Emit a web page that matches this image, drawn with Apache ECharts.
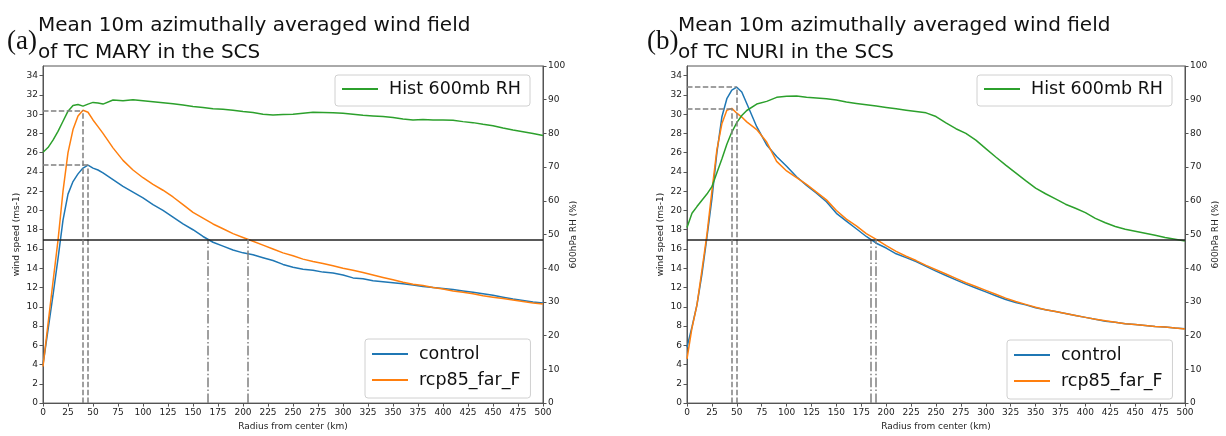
<!DOCTYPE html>
<html>
<head>
<meta charset="utf-8">
<script src="https://cdn.jsdelivr.net/npm/echarts@6/dist/echarts.min.js"></script>
<style>
  html, body { margin: 0; padding: 0; background: #fff; }
  #chart { width: 1226px; height: 436px; }
</style>
</head>
<body>
<div id="chart"></div>
<script>
// radius from center (km): 5 km steps near the core, 10 km further out
var radius = [0, 5, 10, 15, 20, 25, 30, 35, 40, 45, 50, 55, 60,
  70, 80, 90, 100, 110, 120, 130, 140, 150,
  160, 170, 180, 190, 200, 210, 220, 230, 240, 250,
  260, 270, 280, 290, 300, 310, 320, 330, 340, 350,
  360, 370, 380, 390, 400, 410, 420, 430, 440, 450,
  460, 470, 480, 490, 500];

// (a) TC MARY
var maryControl = [4.0, 7.6, 11.2, 15.0, 19.0, 21.7, 23.0, 23.8, 24.4, 24.7, 24.4, 24.2, 23.9,
  23.2, 22.5, 21.9, 21.3, 20.6, 20.0, 19.3, 18.6, 18.0,
  17.3, 16.7, 16.3, 15.9, 15.6, 15.4, 15.1, 14.8, 14.4, 14.1,
  13.9, 13.8, 13.6, 13.5, 13.3, 13.0, 12.9, 12.7, 12.6, 12.5,
  12.4, 12.25, 12.1, 12.0, 11.9, 11.8, 11.65, 11.5, 11.35, 11.2,
  11.0, 10.8, 10.65, 10.5, 10.4];
var maryRcp85 = [3.8, 8.2, 12.6, 16.9, 22.0, 26.0, 28.4, 29.8, 30.4, 30.2, 29.4, 28.7, 28.0,
  26.5, 25.2, 24.2, 23.4, 22.7, 22.1, 21.4, 20.6, 19.8,
  19.2, 18.6, 18.1, 17.6, 17.2, 16.8, 16.4, 16.0, 15.6, 15.3,
  14.95, 14.7, 14.5, 14.25, 14.0, 13.8, 13.55, 13.3, 13.05, 12.8,
  12.55, 12.35, 12.2, 12.0, 11.85, 11.65, 11.5, 11.35, 11.15, 11.0,
  10.85, 10.7, 10.55, 10.4, 10.3];
var maryRH = [74.4, 75.8, 78.0, 80.6, 83.6, 86.6, 88.3, 88.6, 88.1, 88.7, 89.2, 89.0, 88.7,
  89.9, 89.7, 90.0, 89.7, 89.4, 89.1, 88.8, 88.4, 88.0,
  87.7, 87.3, 87.2, 86.9, 86.5, 86.2, 85.7, 85.5, 85.6, 85.7,
  86.0, 86.3, 86.2, 86.1, 86.0, 85.7, 85.4, 85.2, 85.0, 84.7,
  84.3, 84.0, 84.1, 84.0, 84.0, 83.9, 83.5, 83.2, 82.7, 82.3,
  81.6, 81.0, 80.5, 80.0, 79.4];

// (b) TC NURI
var nuriControl = [5.8, 7.9, 10.2, 13.4, 17.2, 21.2, 26.0, 29.7, 31.6, 32.5, 32.8, 32.3, 31.1,
  28.7, 26.8, 25.6, 24.6, 23.5, 22.6, 21.8, 20.9, 19.7,
  18.9, 18.1, 17.3, 16.6, 16.1, 15.5, 15.1, 14.7, 14.2, 13.7,
  13.25, 12.8, 12.35, 11.95, 11.55, 11.15, 10.75, 10.45, 10.2, 9.9,
  9.7, 9.5, 9.3, 9.1, 8.9, 8.7, 8.5, 8.4, 8.25, 8.15,
  8.05, 7.95, 7.9, 7.8, 7.72];
var nuriRcp85 = [4.6, 7.8, 10.2, 13.8, 17.5, 22.0, 26.3, 29.0, 30.4, 30.6, 30.1, 29.7, 29.2,
  28.4, 27.1, 25.1, 24.1, 23.4, 22.7, 21.9, 21.1, 20.0,
  19.1, 18.4, 17.6, 17.0, 16.35, 15.75, 15.25, 14.8, 14.3, 13.85,
  13.4, 12.95, 12.5, 12.1, 11.7, 11.3, 10.9, 10.55, 10.25, 9.95,
  9.7, 9.5, 9.3, 9.1, 8.9, 8.7, 8.55, 8.4, 8.25, 8.15,
  8.05, 7.95, 7.9, 7.8, 7.7];
var nuriRH = [52.1, 56.3, 58.3, 60.2, 62.0, 64.2, 68.3, 72.4, 76.8, 80.4, 83.2, 85.3, 86.8,
  88.7, 89.5, 90.7, 91.0, 91.1, 90.7, 90.5, 90.3, 89.9,
  89.3, 88.9, 88.5, 88.1, 87.7, 87.3, 86.9, 86.5, 86.1, 85.0,
  83.1, 81.4, 80.0, 78.0, 75.5, 73.0, 70.6, 68.3, 66.0, 63.8,
  62.1, 60.6, 59.0, 57.8, 56.5, 54.8, 53.5, 52.4, 51.6, 51.0,
  50.4, 49.8, 49.1, 48.6, 48.1];

var galeSpeed = 17;
var xTicks = { min: 0, max: 500, interval: 25 };
var windTicks = { min: 0, max: 35, interval: 2 };
var rhTicks = { min: 0, max: 100, interval: 10 };

var BLUE = '#1f77b4', ORANGE = '#ff7f0e', GREEN = '#2ca02c';
var FONT = 'DejaVu Sans';

function pairs(vals) {
  return radius.map(function (r, k) { return [r, vals[k]]; });
}

// radius and value of the maximum wind
function peakOf(vals) {
  var k = 0;
  for (var j = 1; j < vals.length; j++) if (vals[j] > vals[k]) k = j;
  return [radius[k], vals[k]];
}

// radius where the wind drops below the level, outside the peak
function crossOf(vals, level) {
  var k = radius.indexOf(peakOf(vals)[0]);
  for (var j = k; j < vals.length - 1; j++) {
    if (vals[j] >= level && vals[j + 1] < level) {
      return radius[j] + (vals[j] - level) / (vals[j] - vals[j + 1]) * (radius[j + 1] - radius[j]);
    }
  }
  return null;
}

function refLines(vals, withGale) {
  var pk = peakOf(vals);
  var rc = crossOf(vals, galeSpeed);
  var dashed = { color: '#808080', width: 1.5, type: [5.5, 2.4] };
  var dashDot = { color: '#808080', width: 1.5, type: [9.6, 2.4, 1.5, 2.4] };
  var data = [
    [{ coord: [pk[0], 0], lineStyle: dashed }, { coord: pk, lineStyle: dashed }],
    [{ coord: [0, pk[1]], lineStyle: dashed }, { coord: pk, lineStyle: dashed }],
    [{ coord: [rc, 0], lineStyle: dashDot }, { coord: [rc, galeSpeed], lineStyle: dashDot }]
  ];
  if (withGale) {
    data.push({ yAxis: galeSpeed, lineStyle: { color: '#222', width: 1.5, type: 'solid' } });
  }
  return {
    silent: true,
    symbol: ['none', 'none'],
    label: { show: false },
    emphasis: { disabled: true },
    data: data
  };
}

function lineSeries(name, vals, color, xi, yi, markLine) {
  var s = {
    name: name,
    type: 'line',
    xAxisIndex: xi,
    yAxisIndex: yi,
    data: pairs(vals),
    showSymbol: false,
    color: color,
    lineStyle: { width: 1.5, color: color },
    emphasis: { disabled: true },
    z: 3
  };
  if (markLine) s.markLine = markLine;
  return s;
}

var axisText = { fontSize: 9, color: '#222', fontFamily: FONT };
var spine = { show: true, lineStyle: { color: '#555', width: 1 } };
var tick = { show: true, inside: false, length: 3.5, lineStyle: { color: '#555' } };

function xAxisFor(i) {
  return {
    type: 'value', gridIndex: i,
    min: xTicks.min, max: xTicks.max, interval: xTicks.interval,
    name: 'Radius from center (km)', nameLocation: 'middle', nameGap: 16,
    nameTextStyle: { fontSize: 9, color: '#222', fontFamily: FONT },
    axisLine: spine, axisTick: tick,
    axisLabel: Object.assign({ margin: 5 }, axisText),
    splitLine: { show: false }
  };
}

function windAxisFor(i) {
  return {
    type: 'value', gridIndex: i, position: 'left',
    min: windTicks.min, max: windTicks.max, interval: windTicks.interval,
    name: 'wind speed (ms-1)', nameLocation: 'middle', nameGap: 22,
    nameTextStyle: { fontSize: 9, color: '#222', fontFamily: FONT },
    axisLine: spine, axisTick: tick,
    axisLabel: Object.assign({ margin: 5, showMaxLabel: false }, axisText),
    splitLine: { show: false }
  };
}

function rhAxisFor(i) {
  return {
    type: 'value', gridIndex: i, position: 'right',
    min: rhTicks.min, max: rhTicks.max, interval: rhTicks.interval,
    name: '600hPa RH (%)', nameLocation: 'middle', nameGap: 24,
    nameTextStyle: { fontSize: 9, color: '#222', fontFamily: FONT },
    axisLine: spine, axisTick: tick,
    axisLabel: Object.assign({ margin: 5 }, axisText),
    splitLine: { show: false }
  };
}

var legendBase = {
  orient: 'vertical',
  icon: 'rect',
  itemWidth: 36,
  itemHeight: 2,
  itemGap: 6,
  backgroundColor: 'rgba(255,255,255,0.85)',
  borderColor: '#d0d0d0',
  borderWidth: 1,
  borderRadius: 3,
  selectedMode: false,
  textStyle: { fontSize: 17.5, lineHeight: 20, color: '#111', fontFamily: FONT, padding: [0, 0, 0, 6] }
};

function legendAt(left, top, names, pad) {
  return Object.assign({}, legendBase, { left: left, top: top, data: names, padding: pad });
}

var titleText = { fontSize: 20, fontWeight: 'normal', lineHeight: 27, color: '#111', fontFamily: FONT };
var labelText = { fontSize: 27, fontWeight: 'normal', color: '#111', fontFamily: 'Liberation Serif' };

var chart = echarts.init(document.getElementById('chart'));
var option = {
  animation: false,
  backgroundColor: '#fff',
  textStyle: { fontFamily: FONT },
  title: [
    { text: '(a)', left: 7, top: 28, padding: 0, textStyle: labelText },
    { text: 'Mean 10m azimuthally averaged wind field\nof TC MARY in the SCS', left: 38, top: 12, padding: 0, textStyle: titleText },
    { text: '(b)', left: 647, top: 28, padding: 0, textStyle: labelText },
    { text: 'Mean 10m azimuthally averaged wind field\nof TC NURI in the SCS', left: 678, top: 12, padding: 0, textStyle: titleText }
  ],
  legend: [
    legendAt(335, 75, ['Hist 600mb RH'], [4, 9, 7, 7]),
    legendAt(365, 339, ['control', 'rcp85_far_F'], [5, 10, 8, 7]),
    legendAt(977, 75, ['Hist 600mb RH'], [4, 9, 7, 7]),
    legendAt(1007, 340, ['control', 'rcp85_far_F'], [5, 10, 8, 7])
  ],
  grid: [
    { left: 43, right: 683, top: 66, bottom: 30, show: true, borderColor: '#555', borderWidth: 1, backgroundColor: 'transparent' },
    { left: 687, right: 41, top: 66, bottom: 30, show: true, borderColor: '#555', borderWidth: 1, backgroundColor: 'transparent' }
  ],
  xAxis: [xAxisFor(0), xAxisFor(1)],
  yAxis: [windAxisFor(0), rhAxisFor(0), windAxisFor(1), rhAxisFor(1)],
  series: [
    lineSeries('control', maryControl, BLUE, 0, 0, refLines(maryControl, true)),
    lineSeries('rcp85_far_F', maryRcp85, ORANGE, 0, 0, refLines(maryRcp85, false)),
    lineSeries('Hist 600mb RH', maryRH, GREEN, 0, 1),
    lineSeries('control', nuriControl, BLUE, 1, 2, refLines(nuriControl, true)),
    lineSeries('rcp85_far_F', nuriRcp85, ORANGE, 1, 2, refLines(nuriRcp85, false)),
    lineSeries('Hist 600mb RH', nuriRH, GREEN, 1, 3)
  ]
};
chart.setOption(option);
</script>
</body>
</html>
